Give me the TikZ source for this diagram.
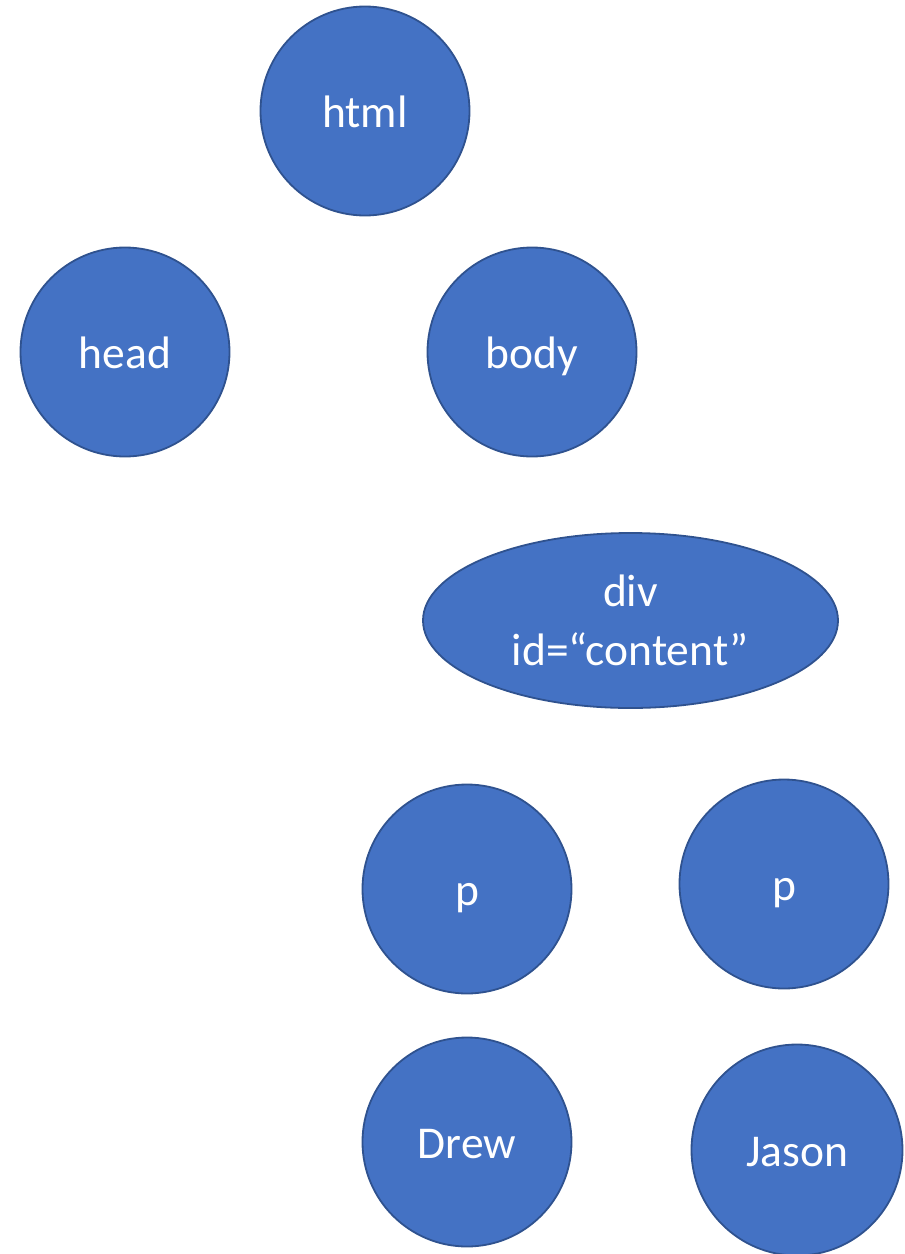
\documentclass[tikz,border=0pt]{standalone}
\usepackage{fontspec}
\setmainfont{Carlito}
\usetikzlibrary{shapes.geometric}
\definecolor{nodefill}{HTML}{4472C4}
\definecolor{nodeline}{HTML}{2F528F}
\begin{document}
\begin{tikzpicture}[x=1pt,y=-1pt,
  bubble/.style={circle,fill=nodefill,draw=nodeline,line width=1.8pt,inner sep=0pt,minimum size=209pt,text height=33pt,text depth=0pt,text=white,font=\fontsize{45.5}{54}\selectfont},
  oval/.style={ellipse,fill=nodefill,draw=nodeline,line width=1.8pt,inner sep=0pt,minimum width=415pt,minimum height=175pt,text=white,align=center,font=\fontsize{45.5}{59}\selectfont}]
\useasboundingbox (0,0) rectangle (905,1254);
\node[bubble] (html) at (365,111) {html};
\node[bubble] (head) at (125,352) {head};
\node[bubble] (body) at (532,352) {body};
\node[oval] (div) at (630.5,620.5) {div\\id=“content”};
\node[bubble] (p1) at (467,889) {p};
\node[bubble] (p2) at (784,884) {p};
\node[bubble] (drew) at (467,1142) {Drew};
\node[bubble,minimum size=211pt] (jason) at (797,1150) {Jason};
\end{tikzpicture}
\end{document}
